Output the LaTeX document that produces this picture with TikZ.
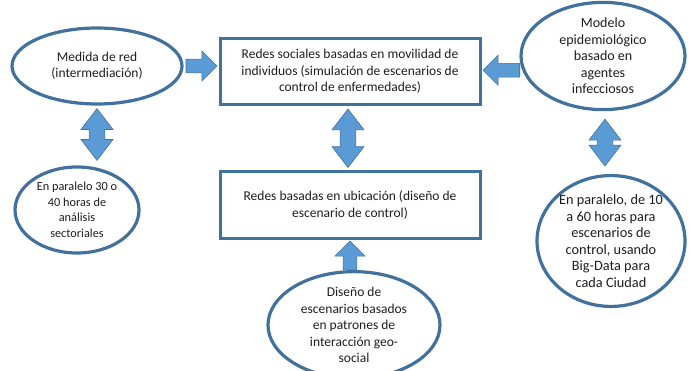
\documentclass[tikz,border=0pt]{standalone}
\usepackage{fontspec}
\setmainfont{Carlito}
\usetikzlibrary{shapes.geometric,shapes.arrows,calc}

\definecolor{borde}{RGB}{65,113,156}
\definecolor{azul}{RGB}{91,155,213}
\definecolor{texto}{RGB}{30,30,30}

% block arrow laid between two points
\newcommand{\flechaentre}[3]{%
  \path let \p1=($#3-#2$), \n1={veclen(\x1,\y1)}, \n2={atan2(\y1,\x1)} in
    node[#1, minimum height=\n1, rotate=\n2] at ($#2!.5!#3$) {};}

\begin{document}
\begin{tikzpicture}[x=1pt,y=-1pt,font=\fontsize{13.5}{16.5}\selectfont,
  text=texto]
  \tikzstyle{elipse}=[ellipse,draw=borde,line width=3.2pt,fill=white,
    inner sep=0pt,align=center]
  \tikzstyle{caja}=[rectangle,draw=borde,line width=3pt,fill=white,
    minimum width=260pt,minimum height=66pt,align=center]
  \tikzstyle{flecha}=[single arrow,draw=borde,fill=azul,line width=0.6pt,
    inner xsep=0pt,inner ysep=6.5pt,minimum width=30pt,single arrow head extend=8pt]
  \tikzstyle{doble}=[double arrow,draw=borde,fill=azul,line width=0.6pt,
    inner xsep=0pt,inner ysep=7.5pt,minimum width=32pt,double arrow head extend=8pt,
    double arrow tip angle=75]

  \useasboundingbox (0,0) rectangle (692,371);

  \node[caja]   (redsoc) at (350,71.5) {Redes sociales basadas en movilidad de\\
                                         individuos  (simulación de escenarios de\\
                                         control de enfermedades)};
  \node[caja]   (ubic)   at (350,205)  {Redes basadas en ubicación (diseño de\\
                                         escenario de control)};
  \node[elipse,minimum width=170pt,minimum height=76pt] (medida) at (97,66)
        {Medida de red\\(intermediación)};
  \node[elipse,minimum width=124pt,minimum height=86pt,
        font=\fontsize{12.3}{15.5}\selectfont] (par30) at (77,210)
        {En paralelo 30 o\\40 horas de\\análisis\\sectoriales};
  \node[elipse,minimum width=164pt,minimum height=96pt,
        font=\fontsize{14}{16.5}\selectfont] (modelo) at (603,56)
        {Modelo\\epidemiológico\\basado en\\agentes\\infecciosos};
  \node[elipse,minimum width=148pt,minimum height=128pt,
        font=\fontsize{14.3}{16.5}\selectfont] (par10) at (611,241)
        {En paralelo, de 10\\a 60 horas para\\escenarios de\\control, usando\\
         Big-Data para\\cada Ciudad};
  \node[elipse,minimum width=172pt,minimum height=91pt] (diseno) at (354,325)
        {Diseño de\\escenarios basados\\en patrones de\\interacción geo-\\social};

  \coordinate (c1) at ($(medida.east)+(-1,0)$);
  \coordinate (c2) at ($(modelo.190)+(1,0)$);
  \coordinate (c3) at ($(medida.south)+(0,3)$);
  \coordinate (c4) at ($(modelo.south)+(2,8)$);
  \coordinate (c5) at ($(diseno.north)+(-4,3)$);

  \flechaentre{flecha}{(c1)}{($(c1 -| redsoc.west)+(-5,0)$)}
  \flechaentre{flecha}{(c2)}{($(c2 -| redsoc.east)+(5,0)$)}
  \flechaentre{doble}{(c3)}{($(c3 |- par30.north)+(0,-5)$)}
  \flechaentre{doble}{($(redsoc.south)+(-2,3)$)}{($(ubic.north)+(-2,-3)$)}
  \flechaentre{doble}{(c4)}{($(c4 |- par10.north)+(0,-8)$)}
  \flechaentre{flecha}{(c5)}{($(c5 |- ubic.south)+(0,5)$)}
\end{tikzpicture}
\end{document}
